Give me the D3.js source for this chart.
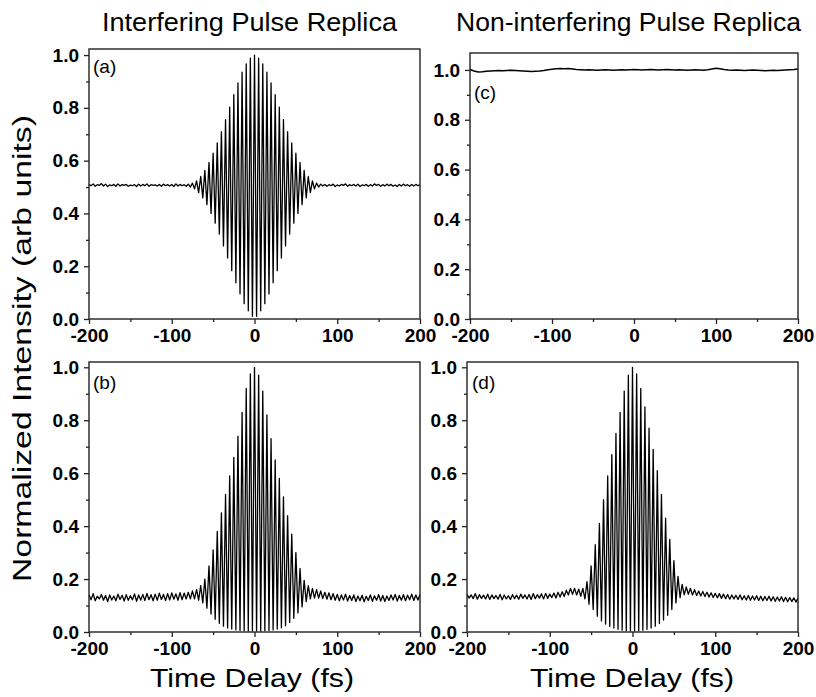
<!DOCTYPE html>
<html>
<head>
<meta charset="utf-8">
<script src="https://cdn.jsdelivr.net/npm/d3@7"></script>
<style>
  body { margin: 0; background: #fff; }
  svg { display: block; }
</style>
</head>
<body>
<script>
// fringe maxima, sampled every 5 fs from -200 to 200
var peakTimes = d3.range(-200, 200.1, 5);
// fringe minima, halfway between maxima
var troughTimes = d3.range(-197.5, 198, 5);

var aPeaks = [
  0.510, 0.512, 0.509, 0.513, 0.511, 0.508, 0.510, 0.512, 0.509, 0.510, 0.507, 0.509,
  0.511, 0.510, 0.512, 0.509, 0.508, 0.510, 0.511, 0.509, 0.510, 0.512, 0.510, 0.509,
  0.511, 0.515, 0.523, 0.540, 0.563, 0.593, 0.628, 0.667, 0.710, 0.755, 0.803, 0.850,
  0.895, 0.935, 0.967, 0.988, 1.000, 0.988, 0.967, 0.935, 0.895, 0.850, 0.803, 0.755,
  0.710, 0.667, 0.628, 0.593, 0.563, 0.540, 0.523, 0.515, 0.511,
  0.510, 0.509, 0.511, 0.508, 0.510, 0.512, 0.509, 0.510, 0.511, 0.508, 0.510, 0.509,
  0.512, 0.510, 0.509, 0.511, 0.510, 0.508, 0.510, 0.511, 0.509, 0.510, 0.510, 0.509
];
var aTroughs = [
  0.505, 0.503, 0.506, 0.504, 0.502, 0.505, 0.503, 0.504, 0.506, 0.503, 0.505, 0.502,
  0.504, 0.505, 0.503, 0.506, 0.504, 0.503, 0.505, 0.504, 0.502, 0.504, 0.505, 0.503,
  0.500, 0.493, 0.479, 0.459, 0.433, 0.400, 0.363, 0.322, 0.277, 0.231, 0.183, 0.137,
  0.095, 0.058, 0.031, 0.010, 0.010, 0.031, 0.058, 0.095, 0.137, 0.183, 0.231, 0.277,
  0.322, 0.363, 0.400, 0.433, 0.459, 0.479, 0.493, 0.500,
  0.504, 0.503, 0.505, 0.502, 0.504, 0.506, 0.503, 0.505, 0.504, 0.502, 0.505, 0.503,
  0.504, 0.506, 0.503, 0.504, 0.505, 0.503, 0.502, 0.504, 0.505, 0.503, 0.504, 0.505
];

var bPeaks = [
  0.140, 0.145, 0.135, 0.142, 0.138, 0.140, 0.136, 0.143, 0.139, 0.141, 0.137, 0.144,
  0.140, 0.142, 0.146, 0.141, 0.143, 0.147, 0.142, 0.145, 0.148, 0.144, 0.149, 0.147,
  0.150, 0.155, 0.160, 0.175, 0.200, 0.250, 0.310, 0.380, 0.450, 0.520, 0.590, 0.660,
  0.740, 0.830, 0.920, 0.975, 1.000, 0.970, 0.910, 0.820, 0.730, 0.650, 0.580, 0.510,
  0.440, 0.370, 0.300, 0.240, 0.195, 0.175, 0.165, 0.160, 0.155,
  0.150, 0.148, 0.145, 0.142, 0.140, 0.143, 0.138, 0.140, 0.136, 0.139, 0.135, 0.140,
  0.137, 0.141, 0.138, 0.136, 0.140, 0.142, 0.138, 0.141, 0.139, 0.143, 0.140, 0.142
];
var bTroughs = [
  0.122, 0.118, 0.125, 0.120, 0.115, 0.121, 0.118, 0.123, 0.117, 0.120, 0.122, 0.116,
  0.121, 0.119, 0.122, 0.118, 0.120, 0.123, 0.119, 0.121, 0.124, 0.120, 0.122, 0.125,
  0.125, 0.125, 0.120, 0.110, 0.090, 0.068, 0.048, 0.033, 0.022, 0.015, 0.011, 0.008,
  0.006, 0.005, 0.004, 0.004, 0.004, 0.004, 0.005, 0.006, 0.008, 0.011, 0.016, 0.024,
  0.036, 0.052, 0.072, 0.095, 0.115, 0.125, 0.128, 0.128,
  0.126, 0.124, 0.122, 0.120, 0.118, 0.121, 0.117, 0.119, 0.115, 0.118, 0.114, 0.119,
  0.116, 0.120, 0.117, 0.115, 0.119, 0.121, 0.117, 0.120, 0.118, 0.122, 0.119, 0.121
];

var cValues = [
  1.002, 0.996, 0.992, 0.993, 0.995, 0.996, 0.997, 0.998, 0.997, 0.998,
  0.999, 0.998, 0.997, 0.996, 0.995, 0.994, 0.995, 0.996, 0.998, 1.001,
  1.003, 1.005, 1.006, 1.005, 1.006, 1.004, 1.002, 1.001, 1.000, 1.001,
  1.000, 0.999, 1.000, 1.001, 1.000, 0.999, 1.000, 1.001, 1.000, 1.001,
  1.002, 1.001, 1.000, 1.001, 1.002, 1.001, 1.000, 1.001, 1.002, 1.001,
  1.000, 1.001, 1.000, 0.999, 1.000, 1.001, 1.000, 0.999, 1.001, 1.004,
  1.007, 1.005, 1.002, 1.000, 0.999, 1.000, 0.999, 0.998, 0.999, 1.000,
  0.999, 0.998, 0.997, 0.998, 0.999, 0.998, 0.999, 1.000, 1.001, 1.002,
  1.004
];

var dPeaks = [
  0.142, 0.140, 0.145, 0.141, 0.139, 0.143, 0.140, 0.138, 0.142, 0.140, 0.137, 0.141,
  0.139, 0.143, 0.140, 0.142, 0.145, 0.141, 0.144, 0.146, 0.143, 0.147, 0.150, 0.152,
  0.158, 0.165, 0.165, 0.162, 0.165, 0.190, 0.250, 0.330, 0.410, 0.500, 0.590, 0.670,
  0.750, 0.830, 0.910, 0.970, 1.000, 0.975, 0.920, 0.850, 0.770, 0.690, 0.610, 0.520,
  0.430, 0.350, 0.270, 0.210, 0.180, 0.170, 0.165, 0.160, 0.155,
  0.153, 0.150, 0.148, 0.146, 0.145, 0.143, 0.142, 0.140, 0.139, 0.140, 0.137, 0.138,
  0.136, 0.137, 0.135, 0.134, 0.135, 0.133, 0.132, 0.133, 0.131, 0.130, 0.129, 0.128
];
var dTroughs = [
  0.128, 0.126, 0.124, 0.127, 0.125, 0.123, 0.126, 0.124, 0.122, 0.125, 0.123, 0.126,
  0.124, 0.127, 0.125, 0.123, 0.126, 0.128, 0.125, 0.127, 0.130, 0.128, 0.132, 0.134,
  0.140, 0.142, 0.140, 0.135, 0.125, 0.105, 0.085, 0.060, 0.042, 0.030, 0.021, 0.015,
  0.010, 0.007, 0.005, 0.004, 0.004, 0.005, 0.007, 0.010, 0.015, 0.022, 0.032, 0.045,
  0.063, 0.085, 0.110, 0.130, 0.140, 0.142, 0.140, 0.138,
  0.136, 0.134, 0.132, 0.130, 0.129, 0.127, 0.126, 0.124, 0.125, 0.123, 0.122, 0.121,
  0.120, 0.121, 0.119, 0.118, 0.119, 0.117, 0.116, 0.117, 0.115, 0.114, 0.115, 0.113
];

var xTicks = [-200, -100, 0, 100, 200];
var xMinor = [-150, -50, 50, 150];
var yTicks = [0, 0.2, 0.4, 0.6, 0.8, 1.0];
var yMinor = [0.1, 0.3, 0.5, 0.7, 0.9];

// merge maxima and minima into one fringe trace
function trace(peaks, troughs) {
  var pts = [];
  peaks.forEach(function (v, i) {
    pts.push([peakTimes[i], v]);
    if (i < troughs.length) pts.push([troughTimes[i], troughs[i]]);
  });
  return pts;
}

var panels = [
  { label: "(a)", pts: trace(aPeaks, aTroughs), left: 89, right: 420, top: 49, bottom: 319, ymax: 1.023, lx: 93, ly: 73, w: 1.3 },
  { label: "(c)", pts: peakTimes.map(function (t, i) { return [t, cValues[i]]; }), left: 470, right: 798, top: 53, bottom: 319, ymax: 1.068, lx: 474, ly: 99, w: 1.6 },
  { label: "(b)", pts: trace(bPeaks, bTroughs), left: 89, right: 420, top: 362, bottom: 632, ymax: 1.02, lx: 93, ly: 389, w: 1.3 },
  { label: "(d)", pts: trace(dPeaks, dTroughs), left: 467, right: 798, top: 362, bottom: 632, ymax: 1.02, lx: 472, ly: 389, w: 1.3 }
];

var font = "'Liberation Sans', Arial, sans-serif";

var svg = d3.select("body").append("svg")
  .attr("width", 816)
  .attr("height", 697)
  .style("font-family", font);

panels.forEach(function (p) {
  var x = d3.scaleLinear().domain([-200, 200]).range([p.left, p.right]);
  var y = d3.scaleLinear().domain([0, p.ymax]).range([p.bottom, p.top]);
  var g = svg.append("g");

  var line = d3.line()
    .x(function (d) { return x(d[0]); })
    .y(function (d) { return y(d[1]); });

  g.append("path")
    .datum(p.pts)
    .attr("d", line)
    .attr("fill", "none")
    .attr("stroke", "#000")
    .attr("stroke-width", p.w)
    .attr("stroke-linejoin", "round");

  // minor ticks
  g.append("g")
    .attr("transform", "translate(0," + p.bottom + ")")
    .call(d3.axisBottom(x).tickValues(xMinor).tickSize(3).tickFormat(""));
  g.append("g")
    .attr("transform", "translate(" + p.left + ",0)")
    .call(d3.axisLeft(y).tickValues(yMinor).tickSize(3).tickFormat(""));

  // major ticks (plain hyphen for negatives)
  g.append("g")
    .attr("transform", "translate(0," + p.bottom + ")")
    .call(d3.axisBottom(x).tickValues(xTicks).tickSize(5).tickPadding(5)
      .tickFormat(function (d) { return String(d); }));
  g.append("g")
    .attr("transform", "translate(" + p.left + ",0)")
    .call(d3.axisLeft(y).tickValues(yTicks).tickSize(5).tickPadding(5).tickFormat(d3.format(".1f")));

  g.selectAll(".domain").remove();
  g.selectAll(".tick line").attr("stroke", "#222").attr("stroke-width", 1.3);
  g.selectAll(".tick text")
    .attr("fill", "#000")
    .style("font-family", font)
    .style("font-size", "19px")
    .style("font-weight", "bold");

  g.append("rect")
    .attr("x", p.left)
    .attr("y", p.top)
    .attr("width", p.right - p.left)
    .attr("height", p.bottom - p.top)
    .attr("fill", "none")
    .attr("stroke", "#222")
    .attr("stroke-width", 1.4);

  g.append("text")
    .attr("x", p.lx)
    .attr("y", p.ly)
    .style("font-size", "19px")
    .text(p.label);
});

// column titles
svg.append("text")
  .attr("x", 102).attr("y", 31)
  .attr("textLength", 295).attr("lengthAdjust", "spacingAndGlyphs")
  .style("font-size", "25px")
  .text("Interfering Pulse Replica");
svg.append("text")
  .attr("x", 456).attr("y", 31)
  .attr("textLength", 345).attr("lengthAdjust", "spacingAndGlyphs")
  .style("font-size", "25px")
  .text("Non-interfering Pulse Replica");

// axis titles
svg.append("text")
  .attr("x", 150).attr("y", 687)
  .attr("textLength", 204).attr("lengthAdjust", "spacingAndGlyphs")
  .style("font-size", "25px")
  .text("Time Delay (fs)");
svg.append("text")
  .attr("x", 530).attr("y", 687)
  .attr("textLength", 204).attr("lengthAdjust", "spacingAndGlyphs")
  .style("font-size", "25px")
  .text("Time Delay (fs)");
svg.append("text")
  .attr("transform", "translate(31,582) rotate(-90)")
  .attr("textLength", 467).attr("lengthAdjust", "spacingAndGlyphs")
  .style("font-size", "26px")
  .text("Normalized Intensity (arb units)");
</script>
</body>
</html>
